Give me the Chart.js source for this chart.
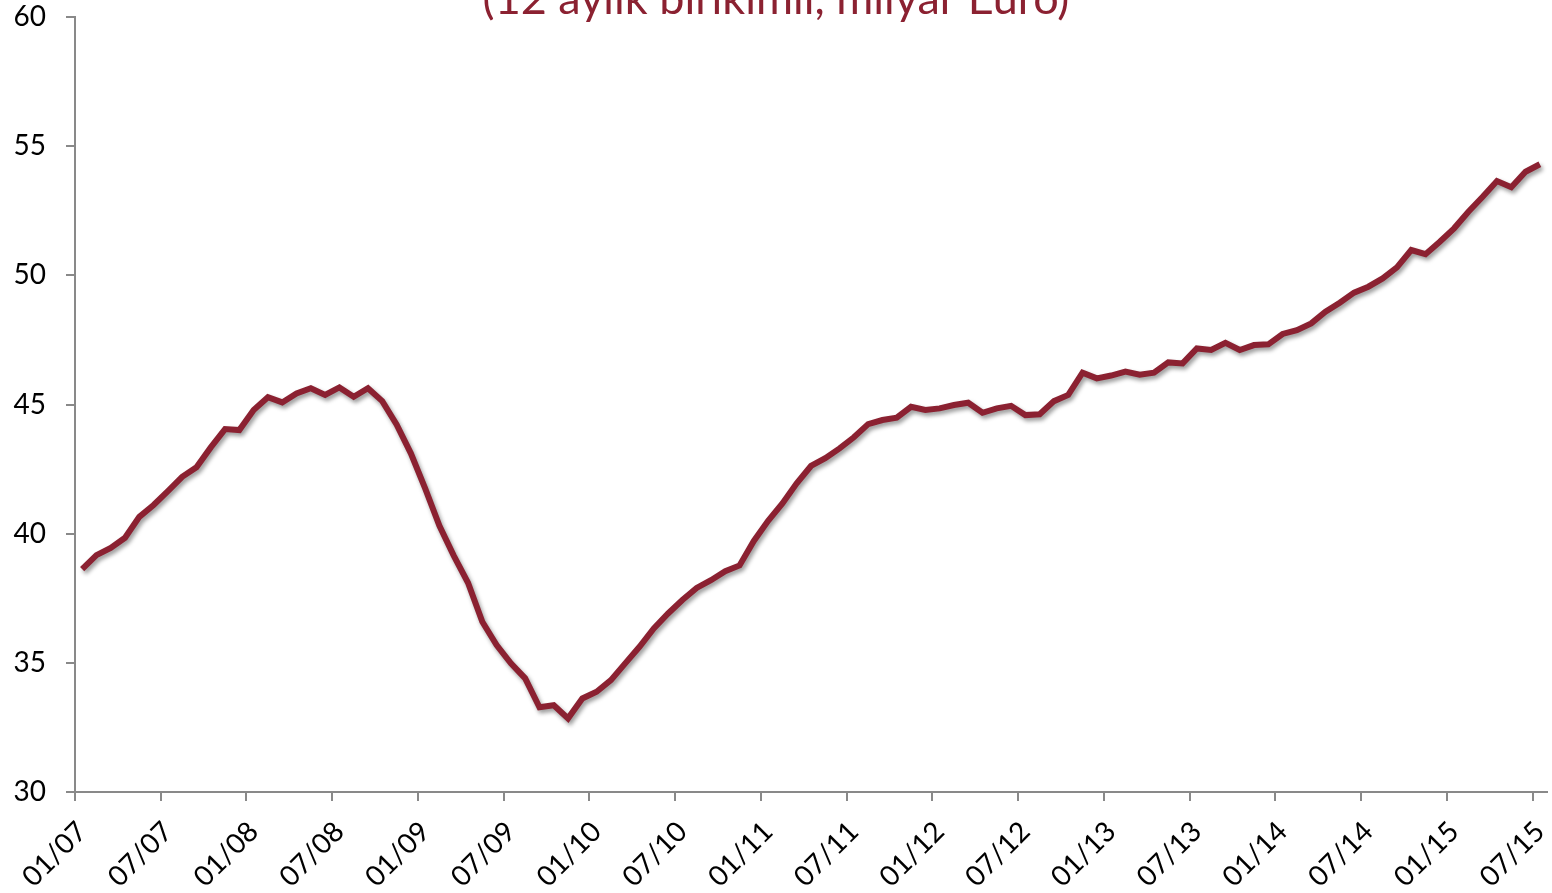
<!DOCTYPE html>
<html>
<head>
<meta charset="utf-8">
<script src="https://cdn.jsdelivr.net/npm/chart.js@4.4.0/dist/chart.umd.min.js"></script>
<style>
  html, body { margin: 0; padding: 0; background: #fff; }
  #wrap { width: 1552px; height: 893px; }
</style>
</head>
<body>
<div id="wrap"><canvas id="myChart"></canvas></div>
<script>
// aylar 01/07 - 07/15 (MM/YY)
const months = [];
for (let y = 7; y <= 15; y++) {
  for (let m = 1; m <= 12; m++) {
    if (y === 15 && m > 7) break;
    months.push(String(m).padStart(2, '0') + '/' + String(y).padStart(2, '0'));
  }
}

const tickLabels = ['01/07', '07/07', '01/08', '07/08', '01/09', '07/09', '01/10', '07/10', '01/11',
  '07/11', '01/12', '07/12', '01/13', '07/13', '01/14', '07/14', '01/15', '07/15'];

const yTicks = [30, 35, 40, 45, 50, 55, 60];

const titleText = '(12 aylık birikimli, milyar Euro)';

// 12 aylık birikimli, milyar Euro
const values = [
  38.63, 39.17, 39.45, 39.84, 40.65, 41.11, 41.65, 42.20, 42.57, 43.34, 44.05, 44.01,
  44.79, 45.28, 45.08, 45.43, 45.63, 45.37, 45.66, 45.30, 45.63, 45.13, 44.23, 43.11,
  41.75, 40.30, 39.15, 38.10, 36.59, 35.69, 34.98, 34.40, 33.28, 33.36, 32.85, 33.62,
  33.88, 34.33, 34.98, 35.62, 36.33, 36.91, 37.43, 37.90, 38.20, 38.55, 38.77, 39.72,
  40.50, 41.17, 41.95, 42.62, 42.92, 43.30, 43.73, 44.24, 44.40, 44.49, 44.91, 44.79,
  44.85, 44.98, 45.07, 44.68, 44.85, 44.95, 44.59, 44.62, 45.13, 45.37, 46.23, 46.01,
  46.12, 46.27, 46.15, 46.23, 46.63, 46.59, 47.17, 47.11, 47.39, 47.11, 47.30, 47.33,
  47.73, 47.88, 48.14, 48.59, 48.94, 49.33, 49.56, 49.88, 50.31, 50.98, 50.82, 51.30,
  51.82, 52.46, 53.04, 53.65, 53.41, 54.01, 54.30
];

const lineColor = '#8b2131';
const axisColor = '#898989';
const fontFamily = 'Lato, "Noto Sans", sans-serif';

// cizgiye golge
const shadowPlugin = {
  id: 'lineShadow',
  beforeDatasetsDraw(chart) {
    const ctx = chart.ctx;
    ctx.save();
    ctx.shadowColor = 'rgba(0, 0, 0, 0.4)';
    ctx.shadowBlur = 4;
    ctx.shadowOffsetX = 2;
    ctx.shadowOffsetY = 3;
  },
  afterDatasetsDraw(chart) {
    chart.ctx.restore();
  }
};

// ust basligin kesik gorunen kismi
const titlePlugin = {
  id: 'topTitle',
  afterDraw(chart) {
    const ctx = chart.ctx;
    ctx.save();
    ctx.font = '45px ' + fontFamily;
    ctx.fillStyle = lineColor;
    ctx.textAlign = 'center';
    ctx.textBaseline = 'alphabetic';
    ctx.fillText(titleText, chart.width / 2, 14);
    ctx.restore();
  }
};

const ctx = document.getElementById('myChart').getContext('2d');
const myChart = new Chart(ctx, {
  type: 'line',
  data: {
    labels: months,
    datasets: [{
      label: 'Euro',
      data: values,
      borderColor: lineColor,
      borderWidth: 6,
      pointRadius: 0,
      tension: 0,
      fill: false
    }]
  },
  plugins: [shadowPlugin, titlePlugin],
  options: {
    responsive: true,
    maintainAspectRatio: false,
    animation: false,
    layout: {
      padding: { top: 17, right: 5, bottom: 0, left: 0 }
    },
    plugins: {
      legend: { display: false },
      title: { display: false },
      tooltip: { enabled: false }
    },
    scales: {
      x: {
        type: 'category',
        offset: true,
        grid: {
          offset: true,
          drawOnChartArea: false,
          drawTicks: true,
          tickLength: 9,
          lineWidth: 2,
          color: (c) => (c.index % 6 === 0 ? axisColor : 'rgba(0,0,0,0)')
        },
        border: { display: true, color: axisColor, width: 2 },
        ticks: {
          autoSkip: false,
          maxRotation: 45,
          minRotation: 45,
          padding: 14,
          color: '#000',
          font: { family: fontFamily, size: 28 },
          callback: function (val, i) {
            const lab = this.getLabelForValue(val);
            return tickLabels.includes(lab) ? lab : '';
          }
        },
        afterFit(scale) {
          scale.height = 101;
          scale.paddingLeft = 0;
          scale.paddingRight = 0;
        }
      },
      y: {
        min: 30,
        max: 60,
        afterBuildTicks(scale) {
          scale.ticks = yTicks.map(v => ({ value: v }));
        },
        grid: {
          drawOnChartArea: false,
          drawTicks: true,
          tickLength: 9,
          lineWidth: 2,
          color: axisColor
        },
        border: { display: true, color: axisColor, width: 2 },
        ticks: {
          padding: 20,
          color: '#000',
          font: { family: fontFamily, size: 28 }
        },
        afterFit(scale) {
          scale.width = 75;
          scale.paddingTop = 0;
          scale.paddingBottom = 0;
        }
      }
    }
  }
});
</script>
</body>
</html>
